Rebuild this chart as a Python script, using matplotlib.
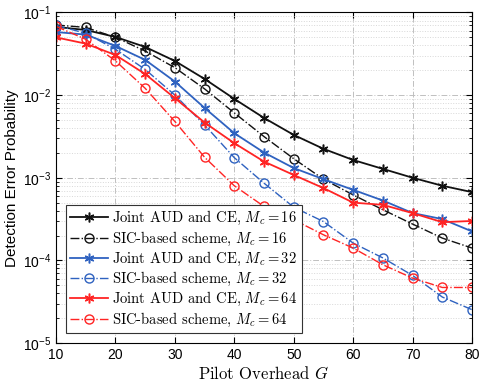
import matplotlib
matplotlib.use("Agg")
import matplotlib.pyplot as plt
from matplotlib.ticker import LogLocator, NullFormatter

plt.rcParams['mathtext.fontset'] = 'cm'
plt.rcParams['font.family'] = ['Liberation Sans', 'DejaVu Sans']

G = [10, 15, 20, 25, 30, 35, 40, 45, 50, 55, 60, 65, 70, 75, 80]

# joint AUD and CE
joint_16 = [0.067, 0.0614, 0.0506, 0.0383, 0.0259, 0.0157, 0.0090, 0.0053, 0.0033,
            0.00224, 0.00164, 0.00128, 0.00100, 0.00080, 0.00067]
joint_32 = [0.058, 0.054, 0.0394, 0.0267, 0.0146, 0.0070, 0.00346, 0.00202, 0.00131,
            0.00096, 0.000714, 0.00053, 0.000374, 0.000316, 0.000224]
joint_64 = [0.050, 0.042, 0.0306, 0.018, 0.0092, 0.00466, 0.00262, 0.00157, 0.00108,
            0.00075, 0.0005, 0.00047, 0.000373, 0.00029, 0.0003]

# SIC-based scheme
sic_16 = [0.0706, 0.0660, 0.050, 0.0342, 0.0215, 0.0119, 0.0061, 0.00315, 0.0017,
          0.00096, 0.00062, 0.00041, 0.000275, 0.000186, 0.000141]
sic_32 = [0.0700, 0.056, 0.0359, 0.0205, 0.0100, 0.00436, 0.00175, 0.00086, 0.00044,
          0.000295, 0.000162, 0.000107, 0.0000657, 0.000036, 0.0000253]
sic_64 = [0.068, 0.0474, 0.026, 0.0121, 0.0048, 0.00177, 0.0008, 0.00045, 0.00031,
          0.000204, 0.000141, 0.0000885, 0.000061, 0.000047, 0.000047]

labels = [
    r'Joint AUD and CE, $M_c = 16$',
    r'SIC-based scheme, $M_c = 16$',
    r'Joint AUD and CE, $M_c = 32$',
    r'SIC-based scheme, $M_c = 32$',
    r'Joint AUD and CE, $M_c = 64$',
    r'SIC-based scheme, $M_c = 64$',
]

black = '#111111'
blue = '#2f62c0'
red = '#ff2424'

fig = plt.figure(figsize=(4.81, 3.81), dpi=100)
ax = fig.add_axes([0.1164, 0.0997, 0.865, 0.8675])

series = [
    (joint_16, black, '-', '*'),
    (sic_16, black, '-.', 'o'),
    (joint_32, blue, '-', '*'),
    (sic_32, blue, '-.', 'o'),
    (joint_64, red, '-', '*'),
    (sic_64, red, '-.', 'o'),
]
for (vals, c, ls, mk), lab in zip(series, labels):
    if mk == 'o':
        ax.semilogy(G, vals, color=c, ls=ls, lw=1.0, marker='o', ms=6.5,
                    mfc='none', mew=1.0, label=lab)
    else:
        # six-spoke asterisk like MATLAB's '*'
        ax.semilogy(G, vals, color=c, ls=ls, lw=1.3, marker=(6, 2, 0), ms=7,
                    mew=1.1, label=lab)

ax.set_xlim(10, 80)
ax.set_ylim(1e-5, 1e-1)
ax.set_xticks(range(10, 81, 10))
ax.yaxis.set_major_locator(LogLocator(base=10, numticks=10))
ax.yaxis.set_minor_locator(LogLocator(base=10, subs=range(2, 10), numticks=50))
ax.yaxis.set_minor_formatter(NullFormatter())

ax.grid(True, which='major', color='#c0c0c0', ls=(0, (6, 2, 1, 2)), lw=0.7)
ax.grid(True, which='minor', axis='y', color='#d8d8d8', ls=':', lw=0.7)
ax.set_axisbelow(True)

ax.tick_params(which='both', direction='in', top=True, right=True, labelsize=10)
ax.tick_params(which='major', length=4)
ax.tick_params(which='minor', length=2)
for s in ax.spines.values():
    s.set_linewidth(0.8)

ax.set_xlabel(r'Pilot Overhead $G$', fontfamily='cmr10', fontsize=12, labelpad=2)
ax.set_ylabel('Detection Error Probability', fontsize=11, labelpad=3)

leg = ax.legend(loc='lower left', bbox_to_anchor=(0.023, 0.03),
                prop={'family': 'cmr10', 'size': 10.5}, fancybox=False,
                framealpha=1, edgecolor='#333333', handlelength=2.6,
                borderpad=0.3, labelspacing=0.15, handletextpad=0.3,
                borderaxespad=0)
leg.get_frame().set_linewidth(0.8)

fig.savefig('out.png', dpi=100)
